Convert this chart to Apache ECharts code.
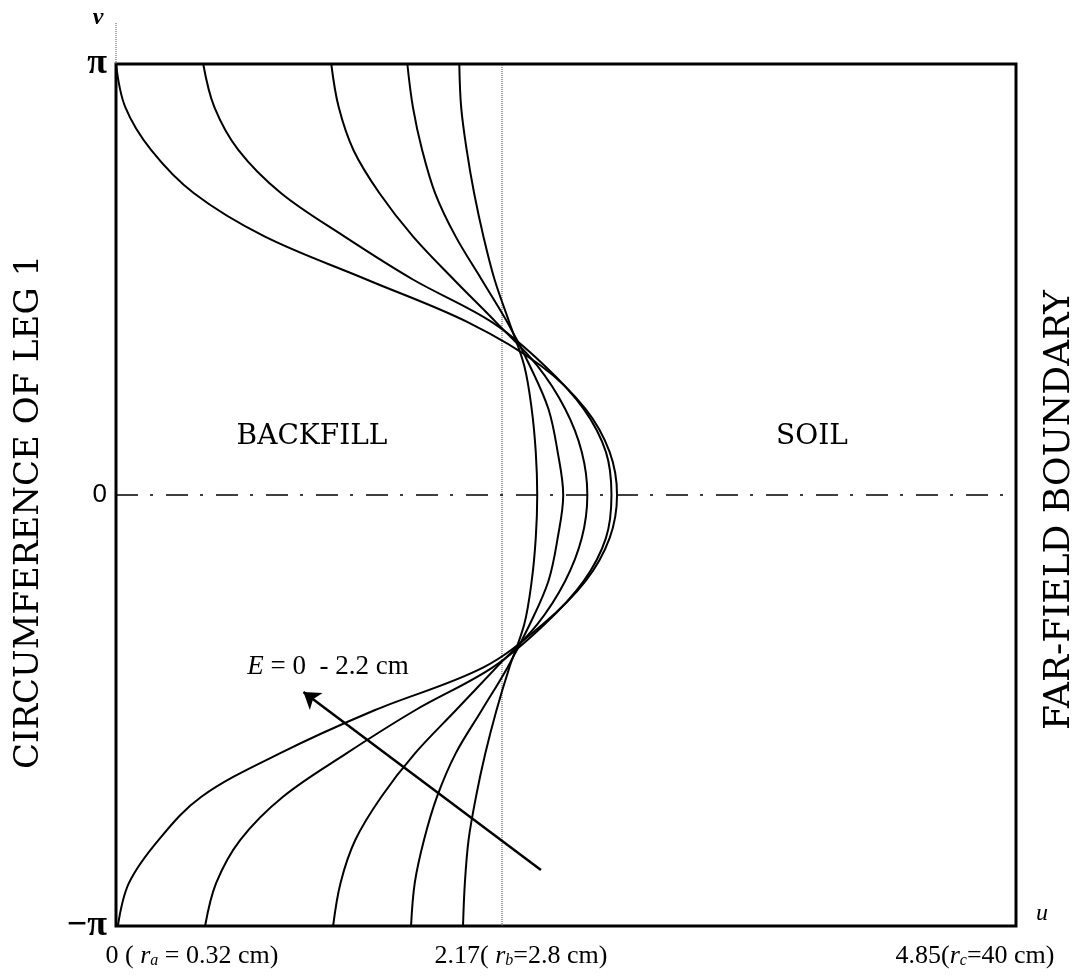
<!DOCTYPE html>
<html>
<head>
<meta charset="utf-8">
<title>Leg circumference mapping</title>
<script src="https://cdn.jsdelivr.net/npm/echarts@6.0.0/dist/echarts.min.js"></script>
<style>
  html, body { margin: 0; padding: 0; background: #fff; }
  #main { width: 1075px; height: 980px; }
</style>
</head>
<body>
<div id="main"></div>
<script>
var PI = Math.PI;

// v of every read point, as a fraction of pi (top of the plot to the bottom)
var vLevels = [1, 0.9, 0.8, 0.7, 0.6, 0.5, 0.4, 0.3, 0.2, 0.1, 0,
  -0.1, -0.2, -0.3, -0.4, -0.5, -0.6, -0.7, -0.8, -0.9, -1];

// u of each curve at those v levels (largest eccentricity first)
var curveA = [0, 0.05, 0.19, 0.42, 0.80, 1.35, 1.90, 2.29, 2.53, 2.66, 2.70,
  2.66, 2.53, 2.30, 1.98, 1.39, 0.88, 0.46, 0.23, 0.07, 0.01];
var curveB = [0.47, 0.53, 0.66, 0.89, 1.23, 1.60, 2.03, 2.31, 2.52, 2.64, 2.67,
  2.64, 2.52, 2.31, 2.03, 1.61, 1.24, 0.90, 0.67, 0.54, 0.48];
var curveC = [1.16, 1.20, 1.28, 1.42, 1.60, 1.82, 2.05, 2.27, 2.42, 2.51, 2.54,
  2.51, 2.42, 2.27, 2.05, 1.83, 1.61, 1.43, 1.29, 1.21, 1.17];
var curveD = [1.57, 1.60, 1.65, 1.72, 1.83, 1.97, 2.11, 2.23, 2.33, 2.38, 2.41,
  2.38, 2.33, 2.23, 2.11, 1.97, 1.83, 1.73, 1.66, 1.61, 1.59];
var curveE = [1.85, 1.86, 1.89, 1.93, 1.98, 2.04, 2.12, 2.20, 2.24, 2.262, 2.27,
  2.262, 2.24, 2.20, 2.12, 2.05, 1.99, 1.94, 1.90, 1.88, 1.87];

var U_MAX = 4.85;
var U_B = 2.08;          // backfill / soil interface as drawn (labelled 2.17)
var V_AXIS_EXT = 1.095;  // dotted v axis goes a bit above pi

// arrow for "E = 0 - 2.2 cm", [u, v/pi]
var arrowFrom = [2.29, -0.87];
var arrowTo = [1.01, -0.457];

var xTickValues = [0, U_B, U_MAX];
var xTickLabels = [
  '{g0|}0 ( {i|r}{s|a} = 0.32 cm)',
  '{g1|}2.17( {i|r}{s|b}=2.8 cm)',
  '4.85({i|r}{s|c}=40 cm){g2|}'
];
var yTickValues = [-PI, 0, PI];
var yTickLabels = ['{pi|\u2212\u03c0}', '{z|0}', '{pi|\u03c0}'];

var SERIF = '"Liberation Serif", "Times New Roman", serif';
var WIDE_SERIF = '"DejaVu Serif", serif';

function toPoints(us) {
  return us.map(function (u, i) { return [u, vLevels[i] * PI]; });
}

var series = [curveA, curveB, curveC, curveD, curveE].map(function (c) {
  return {
    type: 'line',
    data: toPoints(c),
    smooth: 0.35,
    symbol: 'none',
    silent: true,
    z: 4,
    lineStyle: { color: '#000', width: 2 }
  };
});

// interface line u = 2.17
series.push({
  type: 'line', symbol: 'none', silent: true, z: 3,
  data: [[U_B, -PI], [U_B, PI]],
  lineStyle: { color: '#444', width: 1, type: 'dotted' }
});
// v = 0 centre line
series.push({
  type: 'line', symbol: 'none', silent: true, z: 3,
  data: [[0, 0], [U_MAX, 0]],
  lineStyle: { color: '#000', width: 1.6, type: [22, 12, 3, 13] }
});
// v axis stub above the box
series.push({
  type: 'line', symbol: 'none', silent: true, clip: false,
  data: [[0, PI], [0, PI * V_AXIS_EXT]],
  lineStyle: { color: '#555', width: 1, type: 'dotted' }
});
// arrow
series.push({
  type: 'lines', coordinateSystem: 'cartesian2d', silent: true, z: 5,
  symbol: ['none', 'arrow'], symbolSize: 16,
  lineStyle: { color: '#000', width: 2.5, opacity: 1, curveness: 0 },
  data: [{ coords: [[arrowFrom[0], arrowFrom[1] * PI], [arrowTo[0], arrowTo[1] * PI]] }]
});

var option = {
  backgroundColor: '#fff',
  animation: false,
  grid: {
    left: 116, right: 59, top: 64, bottom: 54,
    containLabel: false,
    outerBoundsMode: 'none',
    show: true, borderColor: '#000', borderWidth: 3
  },
  xAxis: {
    type: 'value', min: 0, max: U_MAX,
    splitLine: { show: false },
    axisLine: { show: false, onZero: false },
    axisTick: { show: false },
    name: 'u',
    nameLocation: 'end',
    nameGap: 20,
    nameTextStyle: { fontFamily: SERIF, fontStyle: 'italic', fontSize: 24, color: '#000', verticalAlign: 'bottom' },
    axisLabel: {
      customValues: xTickValues,
      margin: 17,
      color: '#000',
      fontFamily: SERIF,
      fontSize: 26,
      formatter: function (val) {
        var k = xTickValues.indexOf(val);
        return k < 0 ? '' : xTickLabels[k];
      },
      rich: {
        g0: { width: 152 },
        g1: { width: 38 },
        g2: { width: 82 },
        i: { fontFamily: SERIF, fontStyle: 'italic', fontSize: 26, color: '#000' },
        s: { fontFamily: SERIF, fontStyle: 'italic', fontSize: 16, color: '#000', verticalAlign: 'bottom', lineHeight: 14 }
      }
    }
  },
  yAxis: [{
    type: 'value', min: -PI, max: PI,
    splitLine: { show: false },
    axisLine: { show: false, onZero: false },
    axisTick: { show: false },
    name: 'CIRCUMFERENCE OF LEG 1',
    nameLocation: 'middle',
    nameRotate: 90,
    nameGap: 70,
    nameTextStyle: { fontFamily: WIDE_SERIF, fontSize: 34, color: '#000', padding: [0, 34, 0, 0] },
    axisLabel: {
      customValues: yTickValues,
      margin: 9,
      formatter: function (val) {
        var k = yTickValues.indexOf(val);
        return k < 0 ? '' : yTickLabels[k];
      },
      rich: {
        pi: { fontFamily: SERIF, fontSize: 36, fontWeight: 'bold', color: '#000' },
        z: { fontFamily: '"Liberation Sans", sans-serif', fontSize: 26, color: '#000' }
      }
    }
  }, {
    type: 'value', min: -PI, max: PI, position: 'right',
    splitLine: { show: false },
    axisLine: { show: false, onZero: false },
    axisTick: { show: false },
    axisLabel: { show: false },
    name: 'FAR-FIELD BOUNDARY',
    nameLocation: 'middle',
    nameRotate: 90,
    nameGap: 26,
    nameTextStyle: { fontFamily: WIDE_SERIF, fontSize: 36, color: '#000', padding: [0, 30, 0, 0] }
  }],
  graphic: [
    { type: 'text', x: 312, y: 437, style: { text: 'BACKFILL', fontFamily: WIDE_SERIF, fontSize: 28, fill: '#000', align: 'center', verticalAlign: 'middle' } },
    { type: 'text', x: 812, y: 437, style: { text: 'SOIL', fontFamily: WIDE_SERIF, fontSize: 28, fill: '#000', align: 'center', verticalAlign: 'middle' } },
    { type: 'text', x: 328, y: 667, style: {
        text: '{e|E} = 0  - 2.2 cm', fontFamily: SERIF, fontSize: 27, fill: '#000', align: 'center', verticalAlign: 'middle',
        rich: { e: { fontFamily: SERIF, fontStyle: 'italic', fontSize: 27, fill: '#000' } } } },
    { type: 'text', x: 98, y: 18, style: { text: 'v', fontFamily: SERIF, fontStyle: 'italic', fontWeight: 'bold', fontSize: 24, fill: '#000', align: 'center', verticalAlign: 'middle' } }
  ],
  series: series
};

var chart = echarts.init(document.getElementById('main'));
chart.setOption(option);
</script>
</body>
</html>
